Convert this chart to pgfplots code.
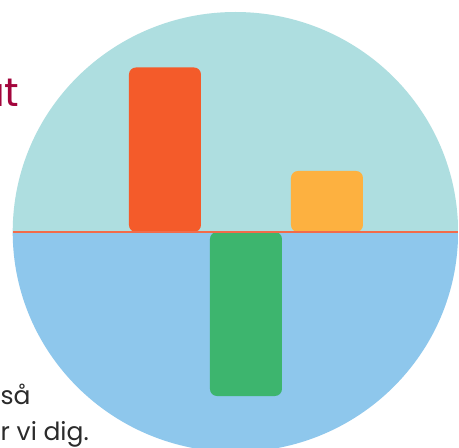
\documentclass[border=0pt]{standalone}
\usepackage{pgfplots}
\pgfplotsset{compat=1.18}
\usepackage{fontspec}
\setmainfont{Poppins}
\definecolor{topc}{HTML}{AEDEE0}
\definecolor{botc}{HTML}{8EC7EC}
\definecolor{redb}{HTML}{F45B2A}
\definecolor{greenb}{HTML}{3DB56E}
\definecolor{yelb}{HTML}{FDB140}
\definecolor{linec}{HTML}{F26B4A}
\definecolor{titlec}{HTML}{A3053C}
\definecolor{textc}{HTML}{2B2B2B}
\begin{document}
\begin{tikzpicture}[x=1pt,y=1pt]
\clip (0,0) rectangle (459,448);
\fill[white] (0,0) rectangle (459,448);
% text fragments behind the circle
\node[anchor=base east, inner sep=0pt, text=titlec, font=\fontsize{40}{44}\selectfont] at (19.5,341) {ut};
\node[anchor=base west, inner sep=0pt, text=textc, font=\fontsize{25}{28}\selectfont] at (0.5,43) {så};
\node[anchor=base east, inner sep=0pt, text=textc, font=\fontsize{25}{28}\selectfont] at (89,7) {r vi dig.};
% circle background
\begin{scope}
\clip (235.4,216) ellipse [x radius=222.7, y radius=220];
\fill[topc] (0,216) rectangle (459,448);
\fill[botc] (0,-10) rectangle (459,216);
\end{scope}
\begin{axis}[
  at={(0pt,0pt)}, anchor=south west,
  scale only axis, width=459pt, height=448pt,
  xmin=-2.037, xmax=3.63,
  ymin=-131.31, ymax=141.03,
  hide axis,
  ybar, bar width=72pt, bar shift=0pt,
]
\addplot[draw=none, fill=redb, rounded corners=7pt] coordinates {(0,100)};
\addplot[draw=none, fill=greenb, rounded corners=7pt] coordinates {(1,-99.7)};
\addplot[draw=none, fill=yelb, rounded corners=7pt] coordinates {(2,37.1)};
\end{axis}
\fill[linec] (12.8,215.3) rectangle (458.1,216.7);
\end{tikzpicture}
\end{document}
